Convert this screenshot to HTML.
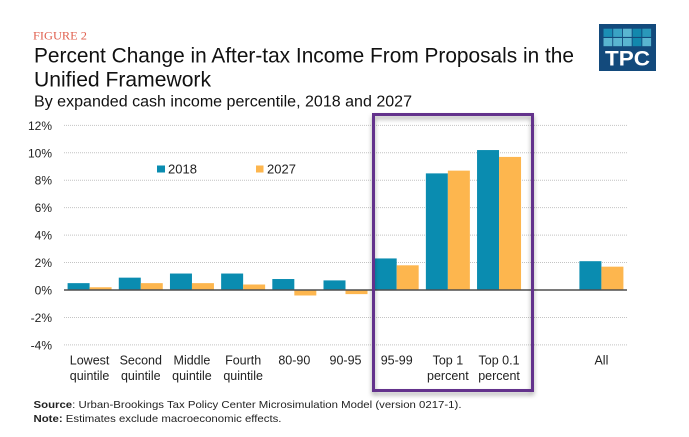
<!DOCTYPE html>
<html>
<head>
<meta charset="utf-8">
<style>
html,body{margin:0;padding:0;background:#fff;width:689px;height:437px;overflow:hidden}
svg{display:block;font-family:"Liberation Sans",sans-serif}
</style>
</head>
<body>
<svg id="chart" width="689" height="437" viewBox="0 0 689 437" xmlns="http://www.w3.org/2000/svg">
  <defs>
    <filter id="soft" x="-10%" y="-10%" width="120%" height="120%"><feDropShadow dx="0" dy="3" stdDeviation="2.5" flood-color="#000" flood-opacity="0.35"/></filter>
  </defs>
  <rect x="0" y="0" width="689" height="437" fill="#fff"/>
  <text x="33" y="39.5" font-family="'Liberation Serif',serif" font-size="12" fill="#e0604f" textLength="54" lengthAdjust="spacingAndGlyphs">FIGURE 2</text>
  <text x="34" y="62.5" font-size="21" fill="#111" textLength="540" lengthAdjust="spacingAndGlyphs">Percent Change in After-tax Income From Proposals in the</text>
  <text x="34" y="86.5" font-size="21" fill="#111" textLength="177" lengthAdjust="spacingAndGlyphs">Unified Framework</text>
  <text x="34" y="106.5" font-size="15.5" fill="#111" textLength="378" lengthAdjust="spacingAndGlyphs">By expanded cash income percentile, 2018 and 2027</text>

  <g>
    <rect x="599" y="24" width="57" height="47" fill="#134a7c"/>
    <g id="logoCells"></g>
    <text x="627.5" y="65.5" font-size="21.5" font-weight="bold" fill="#fff" text-anchor="middle" textLength="45" lengthAdjust="spacingAndGlyphs">TPC</text>
  </g>

  <g id="grid"></g>
  <g id="yLabels"></g>
  <g id="bars"></g>
  <g id="zero"></g>
  <g id="xLabels"></g>

  <g>
    <g>
      <rect x="157" y="165.5" width="8" height="7" fill="#0a8cb0"/>
      <text x="168" y="173.5" font-size="13" fill="#222">2018</text>
    </g>
    <g>
      <rect x="256" y="165.5" width="7.5" height="7" fill="#fdb64e"/>
      <text x="267" y="173.5" font-size="13" fill="#222">2027</text>
    </g>
  </g>

  <rect x="373.5" y="114.5" width="159" height="276" fill="none" stroke="#63308c" stroke-width="3" filter="url(#soft)"/>

  <text x="33.5" y="408" font-size="10.5" fill="#222" textLength="428" lengthAdjust="spacingAndGlyphs"><tspan font-weight="bold">Source</tspan>: Urban-Brookings Tax Policy Center Microsimulation Model (version 0217-1).</text>
  <text x="33.5" y="422" font-size="10.5" fill="#222" textLength="248" lengthAdjust="spacingAndGlyphs"><tspan font-weight="bold">Note:</tspan> Estimates exclude macroeconomic effects.</text>
</svg>
<script>
const categories = [["Lowest","quintile"],["Second","quintile"],["Middle","quintile"],["Fourth","quintile"],["80-90"],["90-95"],["95-99"],["Top 1","percent"],["Top 0.1","percent"],[],["All"]];
const values2018 = [0.5,0.9,1.2,1.2,0.8,0.7,2.3,8.5,10.2,null,2.1];
const values2027 = [0.2,0.5,0.5,0.4,-0.4,-0.3,1.8,8.7,9.7,null,1.7];
const yTicks = [12,10,8,6,4,2,0,-2,-4];

const NS = "http://www.w3.org/2000/svg";
const plotLeft = 64, plotRight = 627;
const yZero = 290, pxPerUnit = 13.72;
const band = (plotRight - plotLeft) / categories.length;
const barWidth = 22;
const yScale = v => yZero - v * pxPerUnit;
const xCenter = i => plotLeft + band * (i + 0.5);

function make(tag, attrs, parent) {
  const el = document.createElementNS(NS, tag);
  for (const k in attrs) el.setAttribute(k, attrs[k]);
  parent.appendChild(el);
  return el;
}

const grid = document.getElementById('grid');
const yLabels = document.getElementById('yLabels');
yTicks.forEach(t => {
  if (t !== 0) {
    const line = make('line', {x1: plotLeft, x2: plotRight, y1: yScale(t), y2: yScale(t), stroke: '#c4c4c4', 'stroke-width': 1, 'stroke-dasharray': '1 1'}, grid);
    
    
  }
  const label = make('text', {x: 52, y: yScale(t) + 4.5, 'font-size': 12, fill: '#222', 'text-anchor': 'end'}, yLabels);
  label.textContent = t + '%';
  
  
});

const bars = document.getElementById('bars');
function drawBar(v, x, fill, name) {
  if (v === null) return;
  const top = Math.min(yScale(v), yZero);
  const r = make('rect', {x: x, y: top, width: barWidth, height: Math.abs(v) * pxPerUnit, fill: fill}, bars);
  
  
}
categories.forEach((c, i) => {
  drawBar(values2018[i], xCenter(i) - barWidth, '#0a8cb0', 'bar-2018');
  drawBar(values2027[i], xCenter(i), '#fdb64e', 'bar-2027');
});

const zeroLine = make('line', {x1: plotLeft, x2: plotRight, y1: yZero, y2: yZero, stroke: '#4f4f4f', 'stroke-width': 1.5}, document.getElementById('zero'));



const xLabels = document.getElementById('xLabels');
categories.forEach((c, i) => {
  c.forEach((line, j) => {
    const t = make('text', {x: xCenter(i), y: 364.5 + j * 15.5, 'font-size': 12.5, fill: '#222', 'text-anchor': 'middle'}, xLabels);
    t.textContent = line;
    
    
  });
});

const logoCells = document.getElementById('logoCells');
const logoColors = ['#1b8fb5','#3aa3c4','#5ab5d0','#1288ad','#2a98ba','#5ab5d0','#5ab5d0','#5ab5d0','#1288ad','#5ab5d0'];
logoColors.forEach((col, i) => {
  const r = make('rect', {x: 603.5 + (i % 5) * 9.7, y: 28.7 + Math.floor(i / 5) * 9.3, width: 8.8, height: 8.2, fill: col}, logoCells);
  
  
});
</script>
</body>
</html>
